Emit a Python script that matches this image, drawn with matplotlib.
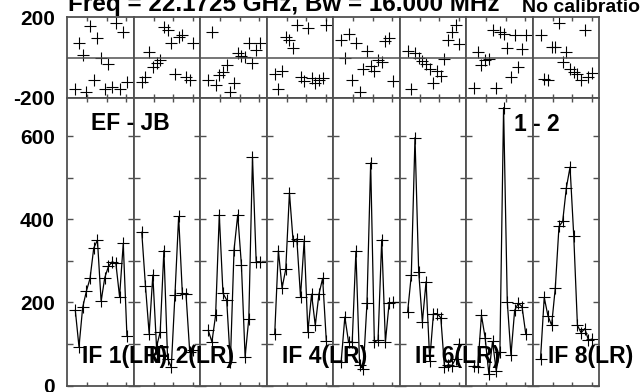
import matplotlib
matplotlib.use("Agg")
import matplotlib.pyplot as plt
import numpy as np
from matplotlib.ticker import FixedLocator, FuncFormatter, MultipleLocator

plt.rcParams["font.family"] = ["Liberation Sans", "DejaVu Sans"]
plt.rcParams["font.weight"] = "bold"

# channels per IF
channels = np.arange(1, 16)

if_labels = ["IF 1(LR)", "IF 2(LR)", "", "IF 4(LR)", "", "IF 6(LR)", "", "IF 8(LR)"]

# amplitude per IF
amp_if1 = [181, 93, 188, 227, 258, 331, 350, 203, 260, 287, 298, 294, 214, 342, 119]
amp_if2 = [369, 240, 125, 266, 93, 129, 325, 65, 44, 219, 407, 222, 220, 81, 86]
amp_if3 = [133, 105, 169, 411, 222, 206, 56, 327, 411, 290, 69, 161, 550, 298, 298]
amp_if4 = [123, 325, 235, 280, 464, 347, 353, 214, 349, 129, 220, 145, 220, 258, 107]
amp_if5 = [57, 165, 105, 105, 323, 50, 40, 198, 536, 105, 109, 351, 105, 198, 200]
amp_if6 = [177, 266, 597, 274, 153, 250, 60, 173, 173, 163, 44, 50, 48, 64, 100]
amp_if7 = [47, 44, 169, 115, 28, 106, 36, 81, 669, 202, 73, 181, 198, 190, 125]
amp_if8 = [65, 212, 168, 145, 235, 383, 395, 476, 526, 361, 145, 127, 137, 109, 112]

# phase per IF (degrees)
ph_if1 = [-159, 73, 12, -171, 156, -113, 95, 0, -159, -30, -145, 172, -159, 128, -121]
ph_if2 = [-121, -99, 28, -46, -27, -13, 153, 139, 73, -83, 100, 111, -99, -113, 73]
ph_if3 = [-113, 128, -138, -88, -71, -38, -171, -129, 23, 7, 3, 70, -27, 36, 73]
ph_if4 = [-83, -159, -66, 103, 86, 45, 161, -96, -116, 145, -104, -129, -112, -104, 161]
ph_if5 = [86, 0, 119, -113, 73, -171, -55, 33, -40, -66, -10, -22, 83, 99, -116]
ph_if6 = [33, -159, 23, 0, -18, -30, -55, -129, -66, -93, -5, 89, 128, 161, 66]
ph_if7 = [-154, 28, -38, -13, -5, 136, -154, 128, 119, 45, -99, 111, -46, 40, 111]
ph_if8 = [111, -109, -113, 53, 50, 172, -22, 28, -55, -71, -83, -113, 139, -99, -76]

amps = [amp_if1, amp_if2, amp_if3, amp_if4, amp_if5, amp_if6, amp_if7, amp_if8]
phases = [ph_if1, ph_if2, ph_if3, ph_if4, ph_if5, ph_if6, ph_if7, ph_if8]

W, H = 640, 392
FRAME = "#505050"


def fx(px):
    return px / W


def fy(py):
    return 1 - py / H


fig = plt.figure(figsize=(W / 100, H / 100), dpi=100)

left, right = 67.3, 599.0
top, mid, bottom = 17.3, 97.7, 385.5
pw = (right - left) / 8

for i in range(8):
    x0 = left + i * pw
    ax_ph = fig.add_axes([fx(x0), fy(mid), pw / W, (mid - top) / H])
    ax_am = fig.add_axes([fx(x0), fy(bottom), pw / W, (bottom - mid) / H])

    for ax in (ax_ph, ax_am):
        ax.set_xlim(-1.17, 16.85)
        ax.xaxis.set_major_locator(FixedLocator([4.25, 9.55, 14.85]))
        ax.set_xticklabels([])
        for s in ax.spines.values():
            s.set_color(FRAME)
            s.set_linewidth(1.3)
        ax.tick_params(axis="x", direction="in", top=True, bottom=True,
                       length=3, width=1, color=FRAME)

    # phase
    ax_ph.plot(channels, phases[i], "+", color="black", ms=8.6, mew=0.8)
    ax_ph.set_ylim(-200, 200)
    ax_ph.axhline(0, color=FRAME, lw=1.1)
    ax_ph.set_yticks([-200, 200])
    ax_ph.tick_params(axis="y", length=0, pad=9, labelsize=15)

    # amplitude
    ax_am.plot(channels, amps[i], "-", color="black", lw=0.9,
               marker="+", ms=8.6, mew=0.8)
    ax_am.set_ylim(0, 693)
    ax_am.yaxis.set_major_locator(MultipleLocator(100))
    ax_am.tick_params(axis="y", direction="in", left=True, right=True,
                      length=4, width=1, color=FRAME, pad=9, labelsize=15)
    ax_am.yaxis.set_major_formatter(
        FuncFormatter(lambda v, p: f"{v:.0f}" if round(v) % 200 == 0 else ""))

    if i > 0:
        ax_ph.set_yticklabels([])
        ax_am.set_yticklabels([])
    else:
        ax_ph.set_yticklabels(["-200", "200"])

    if if_labels[i]:
        fig.text(fx(x0 + 15), fy(362.5), if_labels[i], fontsize=16.5,
                 fontweight="bold", ha="left", va="baseline")

fig.text(fx(68), fy(11.5), "Freq = 22.1725 GHz, Bw = 16.000 MHz",
         fontsize=17.5, fontweight="bold", ha="left", va="baseline")
fig.text(fx(522), fy(11.5), "No calibration applied",
         fontsize=14, fontweight="bold", ha="left", va="baseline")
fig.text(fx(91), fy(130), "EF - JB", fontsize=16.5, fontweight="bold",
         ha="left", va="baseline")
fig.text(fx(514), fy(131), "1 - 2", fontsize=16.5, fontweight="bold",
         ha="left", va="baseline")

fig.savefig("out.png", dpi=100)
